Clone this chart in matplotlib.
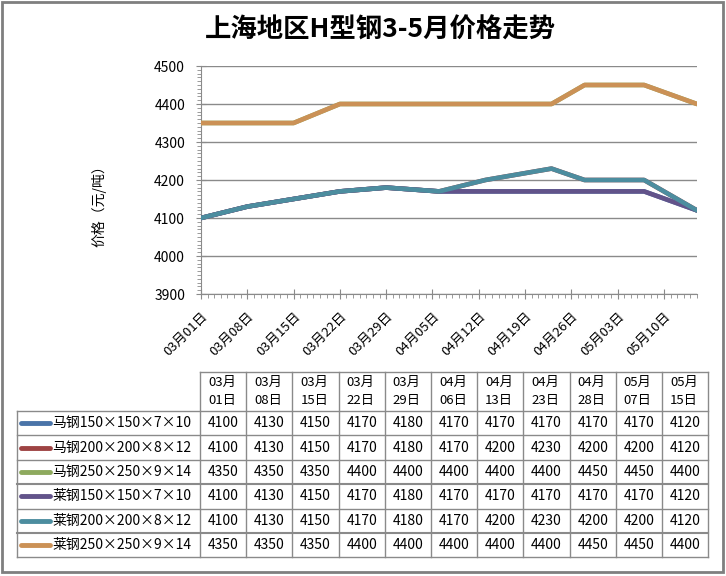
import pandas as pd
import matplotlib.pyplot as plt
import matplotlib.dates as mdates

plt.rcParams['font.family'] = ['Noto Sans CJK SC', 'DejaVu Sans']

# data
dates = ['03-01', '03-08', '03-15', '03-22', '03-29', '04-06', '04-13', '04-23', '04-28', '05-07', '05-15']
col_labels = ['03月\n01日', '03月\n08日', '03月\n15日', '03月\n22日', '03月\n29日', '04月\n06日',
              '04月\n13日', '04月\n23日', '04月\n28日', '05月\n07日', '05月\n15日']
series_names = ['马钢150×150×7×10', '马钢200×200×8×12', '马钢250×250×9×14',
                '莱钢150×150×7×10', '莱钢200×200×8×12', '莱钢250×250×9×14']
ma_150 = [4100, 4130, 4150, 4170, 4180, 4170, 4170, 4170, 4170, 4170, 4120]
ma_200 = [4100, 4130, 4150, 4170, 4180, 4170, 4200, 4230, 4200, 4200, 4120]
ma_250 = [4350, 4350, 4350, 4400, 4400, 4400, 4400, 4400, 4450, 4450, 4400]
lai_150 = [4100, 4130, 4150, 4170, 4180, 4170, 4170, 4170, 4170, 4170, 4120]
lai_200 = [4100, 4130, 4150, 4170, 4180, 4170, 4200, 4230, 4200, 4200, 4120]
lai_250 = [4350, 4350, 4350, 4400, 4400, 4400, 4400, 4400, 4450, 4450, 4400]
series = [ma_150, ma_200, ma_250, lai_150, lai_200, lai_250]
colors = ['#4A74A8', '#9E4343', '#8EAA5E', '#62538A', '#4C8D9F', '#CB9156']

x = pd.to_datetime(['2013-' + d for d in dates])

W, H = 726, 576
fig = plt.figure(figsize=(W / 100, H / 100), dpi=100)
fig.patch.set_facecolor('white')

ax = fig.add_axes([201 / W, 1 - 294 / H, 496 / W, 228 / H])
for vals, c in zip(series, colors):
    ax.plot(x, vals, color=c, lw=3.3, solid_joinstyle='round', solid_capstyle='round', zorder=3)

ax.set_ylim(3900, 4500)
ax.set_yticks(range(3900, 4501, 100))
ax.set_yticks(range(3900, 4501, 10), minor=True)
ax.set_xlim(pd.Timestamp('2013-03-01'), pd.Timestamp('2013-05-15'))
ax.set_xticks(pd.date_range('2013-03-01', '2013-05-10', freq='7D'))
ax.xaxis.set_minor_locator(mdates.DayLocator())
ax.xaxis.set_major_formatter(mdates.DateFormatter('%m月%d日'))
ax.grid(axis='y', which='major', color='#8a8a8a', lw=1)
ax.set_axisbelow(True)
for s in ['top', 'right']:
    ax.spines[s].set_visible(False)
for s in ['left', 'bottom']:
    ax.spines[s].set_color('#8a8a8a')
ax.tick_params(which='major', direction='inout', length=7, color='#8a8a8a', labelsize=9.5, pad=8)
ax.tick_params(which='minor', direction='out', length=3, color='#8a8a8a')
ax.tick_params(axis='y', pad=8, labelsize=10)
for lbl in ax.get_xticklabels():
    lbl.set_rotation(45)
    lbl.set_ha('right')
    lbl.set_va('top')
    lbl.set_rotation_mode('anchor')
ax.set_ylabel('价格（元/吨）', fontsize=10)
ax.yaxis.set_label_coords(-0.19, 0.40)

fig.text(380 / W, 1 - 30 / H, '上海地区H型钢3-5月价格走势', fontsize=19, fontweight='bold',
         ha='center', va='center')

# data table below the chart
ov = fig.add_axes([0, 0, 1, 1], zorder=-1)
ov.set_xlim(0, W)
ov.set_ylim(H, 0)
ov.axis('off')

grid_c = '#8a8a8a'
lab_left, col_left, col_w = 17, 200, 46.2
head_top, head_bot, row_h = 372, 411, 24.4
n_cols = len(col_labels)
right = col_left + n_cols * col_w
bottom = head_bot + len(series) * row_h

ov.plot([col_left, right], [head_top, head_top], color=grid_c, lw=1)
for i in range(len(series) + 1):
    y = head_bot + i * row_h
    ov.plot([lab_left, right], [y, y], color=grid_c, lw=1.5 if i in (3, 5) else 1)
ov.plot([lab_left, lab_left], [head_bot, bottom], color=grid_c, lw=1)
for j in range(n_cols + 1):
    xx = col_left + j * col_w
    ov.plot([xx, xx], [head_top, bottom], color=grid_c, lw=1)

for j, lab in enumerate(col_labels):
    ov.text(col_left + j * col_w + 8, (head_top + head_bot) / 2, lab, fontsize=9.5,
            ha='left', va='center', linespacing=1.45)

for i, (name, vals, c) in enumerate(zip(series_names, series, colors)):
    yc = head_bot + (i + 0.5) * row_h
    ov.plot([21, 50], [yc, yc], color=c, lw=3.5, solid_capstyle='round')
    ov.text(52, yc, name, fontsize=10, ha='left', va='center')
    for j, v in enumerate(vals):
        ov.text(col_left + (j + 0.5) * col_w, yc, str(v), fontsize=10,
                ha='center', va='center')

ov.add_patch(plt.Rectangle((1.5, 1.5), 721, 570, fill=False, edgecolor='#7f7f7f', lw=2))

fig.savefig('out.png', dpi=100)
